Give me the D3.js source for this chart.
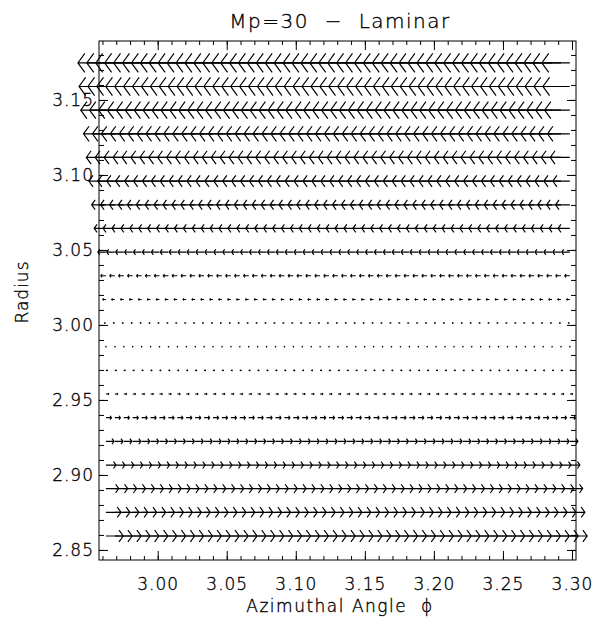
<!DOCTYPE html>
<html>
<head>
<meta charset="utf-8">
<script src="https://cdn.jsdelivr.net/npm/d3@7"></script>
<style>
  body { margin: 0; background: #fff; }
  text { font-family: "DejaVu Sans", sans-serif; font-weight: 200; fill: #000; stroke: #000; stroke-width: 0.35px; }
</style>
</head>
<body>
<div id="chart"></div>
<script>
const width = 608;
const height = 627;
const margin = {top: 41, right: 32, bottom: 67, left: 99};

// radial grid rows (bottom to top)
const radii = [2.8593, 2.8751, 2.8909, 2.9066, 2.9224, 2.9382, 2.9540, 2.9697, 2.9855, 3.0013,
  3.0170, 3.0328, 3.0486, 3.0644, 3.0801, 3.0959, 3.1117, 3.1274, 3.1432, 3.1590, 3.1747];
// azimuthal velocity per row (relative units, bottom to top)
const vPhi = [0.62, 0.54, 0.46, 0.36, 0.29, 0.20, 0.10, 0.05, 0.01, -0.05,
  -0.11, -0.18, -0.29, -0.42, -0.51, -0.61, -0.70, -0.80, -0.90, -0.96, -1.00];
// azimuthal grid
const phiStart = 2.9625;
const phiStep = 0.00646;
const nPhi = 53;
const phis = d3.range(nPhi).map(i => phiStart + i * phiStep);

const xTicks = [3.00, 3.05, 3.10, 3.15, 3.20, 3.25, 3.30];
const yTicks = [2.85, 2.90, 2.95, 3.00, 3.05, 3.10, 3.15];

const svg = d3.select('#chart').append('svg')
  .attr('width', width)
  .attr('height', height);

const x = d3.scaleLinear().domain([2.9575, 3.3029]).range([margin.left, width - margin.right]);
const y = d3.scaleLinear().domain([2.8433, 3.1893]).range([height - margin.bottom, margin.top]);
const maxLen = 28; // px for unit velocity

// vectors
const vectors = [];
radii.forEach((r, i) => {
  phis.forEach(p => vectors.push({phi: p, r: r, u: vPhi[i]}));
});

const g = svg.append('g').attr('class', 'vectors');
const ang = 54 * Math.PI / 180;
g.selectAll('path')
  .data(vectors)
  .join('path')
    .attr('d', d => {
      const x0 = x(d.phi), y0 = y(d.r);
      const len = d.u * maxLen;
      const x1 = x0 + len;
      const h = Math.max(Math.abs(len) * 0.42, 0.9);
      const dir = Math.sign(len) || 1;
      const hx = x1 - dir * h * Math.cos(ang);
      const hy = h * Math.sin(ang);
      return `M${x0},${y0}L${x1},${y0}M${hx},${y0 - hy}L${x1},${y0}L${hx},${y0 + hy}`;
    })
    .attr('fill', 'none')
    .attr('stroke', '#000')
    .attr('stroke-width', 1.15);

// frame
svg.append('rect')
  .attr('x', margin.left).attr('y', margin.top)
  .attr('width', width - margin.left - margin.right)
  .attr('height', height - margin.top - margin.bottom)
  .attr('fill', 'none').attr('stroke', '#000').attr('stroke-width', 1);

const minorX = d3.range(2.96, 3.305, 0.01);
const minorY = d3.range(2.85, 3.19, 0.01);

// bottom & top axes
svg.append('g')
  .attr('transform', `translate(0,${height - margin.bottom})`)
  .call(d3.axisBottom(x).tickValues(minorX).tickSize(-4).tickFormat(''))
  .call(a => a.select('.domain').remove());
svg.append('g')
  .attr('transform', `translate(0,${height - margin.bottom})`)
  .call(d3.axisBottom(x).tickValues(xTicks).tickSize(-9).tickPadding(18).tickFormat(d3.format('.2f')))
  .call(a => a.select('.domain').remove())
  .call(a => a.selectAll('text').attr('font-size', 17).attr('letter-spacing', 1).attr('fill', '#000'));
svg.append('g')
  .attr('transform', `translate(0,${margin.top})`)
  .call(d3.axisTop(x).tickValues(minorX).tickSize(-4).tickFormat(''))
  .call(a => a.select('.domain').remove());
svg.append('g')
  .attr('transform', `translate(0,${margin.top})`)
  .call(d3.axisTop(x).tickValues(xTicks).tickSize(-9).tickFormat(''))
  .call(a => a.select('.domain').remove());

// left & right axes
svg.append('g')
  .attr('transform', `translate(${margin.left},0)`)
  .call(d3.axisLeft(y).tickValues(minorY).tickSize(-5).tickFormat(''))
  .call(a => a.select('.domain').remove());
svg.append('g')
  .attr('transform', `translate(${margin.left},0)`)
  .call(d3.axisLeft(y).tickValues(yTicks).tickSize(-9).tickPadding(5).tickFormat(d3.format('.2f')))
  .call(a => a.select('.domain').remove())
  .call(a => a.selectAll('text').attr('font-size', 17).attr('letter-spacing', 1).attr('fill', '#000'));
svg.append('g')
  .attr('transform', `translate(${width - margin.right},0)`)
  .call(d3.axisRight(y).tickValues(minorY).tickSize(-5).tickFormat(''))
  .call(a => a.select('.domain').remove());
svg.append('g')
  .attr('transform', `translate(${width - margin.right},0)`)
  .call(d3.axisRight(y).tickValues(yTicks).tickSize(-9).tickFormat(''))
  .call(a => a.select('.domain').remove());

svg.selectAll('.tick line').attr('stroke', '#000');
svg.selectAll('.tick text').style('font-family', '"DejaVu Sans", sans-serif').style('font-weight', 200);

// titles
svg.append('text')
  .attr('x', 340)
  .attr('y', 28)
  .attr('text-anchor', 'middle')
  .attr('font-size', 20)
  .attr('letter-spacing', 1.5)
  .style('white-space', 'pre')
  .text('Mp=30  \u2212  Laminar');
svg.append('text')
  .attr('x', 340)
  .attr('y', 612)
  .attr('text-anchor', 'middle')
  .attr('font-size', 17)
  .attr('letter-spacing', 1.5)
  .style('white-space', 'pre')
  .text('Azimuthal Angle  \u03d5');
svg.append('text')
  .attr('transform', `translate(28,${292}) rotate(-90)`)
  .attr('text-anchor', 'middle')
  .attr('font-size', 17)
  .attr('letter-spacing', 1)
  .text('Radius');
</script>
</body>
</html>
